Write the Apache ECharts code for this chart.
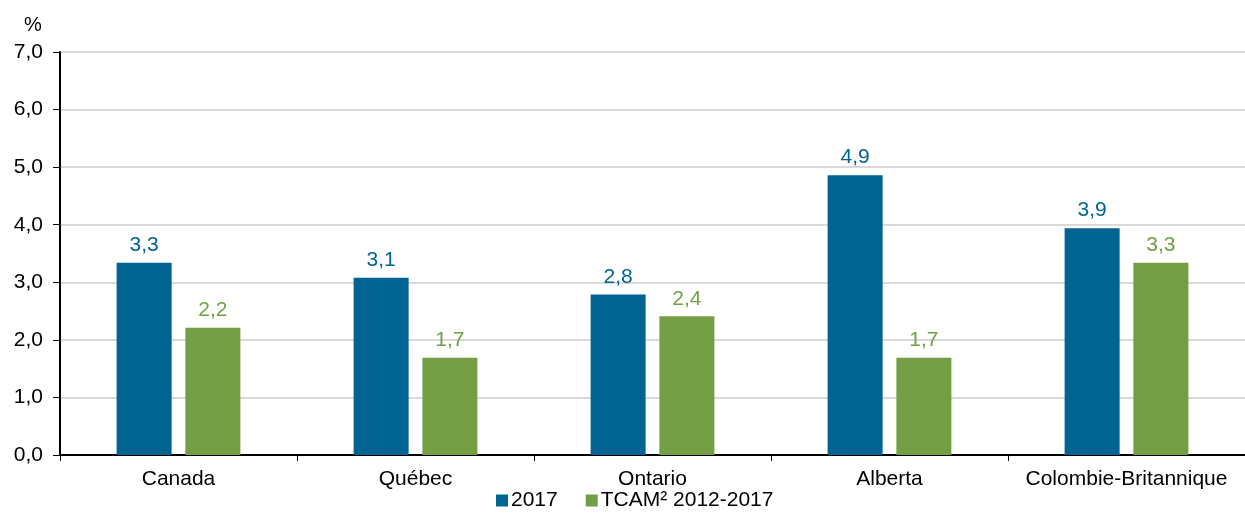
<!DOCTYPE html>
<html>
<head>
  <meta charset="UTF-8">
  <title></title>
  <script type="text/javascript" src="https://cdn.jsdelivr.net/npm/echarts@6/dist/echarts.min.js"></script>
  <style type="text/css">
    *{ margin: 0; padding: 0; box-sizing: border-box; }
    body{ background: #fff; }
    #main{ width: 1245px; height: 517px; }
  </style>
</head>
<body>
  <div id="main"></div>
  <script type="text/javascript">
    var categories = ['Canada', 'Québec', 'Ontario', 'Alberta', 'Colombie-Britannique'];
    var serie2017 = [3.34, 3.08, 2.79, 4.86, 3.94];
    var serieTcam = [2.21, 1.69, 2.41, 1.69, 3.34];
    var yTicks = [0, 1, 2, 3, 4, 5, 6, 7];

    var fmt = function (v) { return v.toFixed(1).replace('.', ','); };

    var myChart = echarts.init(document.getElementById('main'));
    var option = {
      animation: false,
      textStyle: { fontFamily: 'Liberation Sans, Arial, sans-serif' },
      grid: { left: 60, top: 52, width: 1194, height: 403, containLabel: false },
      legend: {
        bottom: 1, left: 491,
        itemWidth: 12, itemHeight: 12, itemGap: 28,
        icon: 'rect',
        textStyle: { color: '#000', fontSize: 21, padding: [0, 0, 0, -2] },
        data: ['2017', 'TCAM² 2012-2017']
      },
      title: {
        text: '%', left: 19, top: 10,
        textStyle: { color: '#000', fontSize: 20, fontWeight: 'normal' }
      },
      xAxis: {
        type: 'category',
        data: categories,
        axisLine: { lineStyle: { color: '#000', width: 2 } },
        axisTick: { show: true, interval: 0, length: 6, lineStyle: { color: '#000' } },
        axisLabel: { color: '#000', fontSize: 21, margin: 14, interval: 0 }
      },
      yAxis: {
        type: 'value',
        min: yTicks[0], max: yTicks[yTicks.length - 1], interval: 1,
        axisLine: { show: true, lineStyle: { color: '#000', width: 2 } },
        axisTick: { show: true, length: 7, lineStyle: { color: '#000' } },
        axisLabel: { color: '#000', fontSize: 21, margin: 17, formatter: function (v) { return fmt(v); } },
        splitLine: { show: true, lineStyle: { color: '#d9d9d9', width: 2 } }
      },
      series: [
        {
          name: '2017', type: 'bar', data: serie2017,
          barWidth: 55, barGap: '25%',
          itemStyle: { color: '#006391' },
          label: { show: true, position: 'top', distance: 7, color: '#006391', fontSize: 21,
                   formatter: function (p) { return fmt(p.value); } }
        },
        {
          name: 'TCAM² 2012-2017', type: 'bar', data: serieTcam,
          barWidth: 55,
          itemStyle: { color: '#739e44' },
          label: { show: true, position: 'top', distance: 7, color: '#739e44', fontSize: 21,
                   formatter: function (p) { return fmt(p.value); } }
        }
      ]
    };
    myChart.setOption(option);
  </script>
</body>
</html>
